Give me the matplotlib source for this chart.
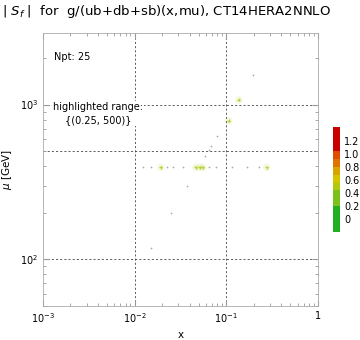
"""
|Sf| sensitivity map for g/(ub+db+sb), CT14HERA2NNLO.
"""
import matplotlib
matplotlib.use('Agg')
import matplotlib.pyplot as plt
from matplotlib.colors import ListedColormap, BoundaryNorm
from matplotlib.colorbar import ColorbarBase
import numpy as np

# data points
x_pts = [0.196, 0.137, 0.106, 0.080, 0.069, 0.065, 0.0594, 0.0378, 0.0247, 0.015,
         0.0123, 0.0151, 0.0194, 0.0225, 0.0262, 0.0336, 0.0466, 0.0515, 0.0556,
         0.0646, 0.0771, 0.115, 0.168, 0.227, 0.277]
mu_pts = [1557, 1072, 787, 630, 543, 509, 462, 297, 200, 119,
          393, 393, 393, 393, 393, 393, 393, 393, 393,
          393, 393, 393, 393, 393, 393]
sf_pts = [0.12, 0.48, 0.47, 0.12, 0.1, 0.1, 0.1, 0.12, 0.1, 0.1,
          0.1, 0.1, 0.46, 0.1, 0.1, 0.1, 0.45, 0.47, 0.46,
          0.1, 0.1, 0.1, 0.1, 0.1, 0.48]

# colour bar bands
bounds = [-0.2, 0.2, 0.44, 0.56, 0.68, 0.8, 0.92, 1.04, 1.42]
band_colors = ['#22b022', '#7cc01a', '#b0c810', '#d4c400', '#d9a400',
               '#e07400', '#e04c00', '#c80000']
cbar_ticks = [0, 0.2, 0.4, 0.6, 0.8, 1.0, 1.2]

cmap = ListedColormap(band_colors)
norm = BoundaryNorm(bounds, cmap.N)

fig = plt.figure(figsize=(3.6, 3.4), dpi=100)
ax = fig.add_axes([0.119, 0.1, 0.764, 0.803])

x_arr = np.array(x_pts)
mu_arr = np.array(mu_pts)
sf_arr = np.array(sf_pts)
low = sf_arr < 0.3

ax.scatter(x_arr[low], mu_arr[low], s=3, marker='+', color='#aaaaaa', lw=0.5, zorder=3)
# pale halo for the highlighted points
ax.scatter(x_arr[~low], mu_arr[~low], s=30, c=sf_arr[~low], cmap=cmap, norm=norm,
           alpha=0.12, edgecolors='none', zorder=3)
ax.scatter(x_arr[~low], mu_arr[~low], s=5, marker='+', c=sf_arr[~low], cmap=cmap,
           norm=norm, lw=1.0, alpha=0.8, zorder=4)

ax.set_xscale('log')
ax.set_yscale('log')
ax.set_xlim(1e-3, 1)
ax.set_ylim(50, 2900)

for xv in [0.01, 0.1]:
    ax.axvline(xv, color='#444444', ls=(0, (2.5, 2.5)), lw=0.6, zorder=1)
for yv in [100, 500, 1000]:
    ax.axhline(yv, color='#444444', ls=(0, (2.5, 2.5)), lw=0.6, zorder=1)

ax.set_xticks([1e-3, 1e-2, 1e-1, 1])
ax.set_xticklabels(['$10^{-3}$', '$10^{-2}$', '$10^{-1}$', '1'])
ax.set_yticks([100, 1000])
ax.set_yticklabels(['$10^{2}$', '$10^{3}$'])
ax.tick_params(which='both', direction='in', top=True, right=True,
               labelsize=7, color='#999999')
ax.tick_params(which='major', length=4)
ax.tick_params(which='minor', length=2)
for sp in ax.spines.values():
    sp.set_color('#aaaaaa')
    sp.set_linewidth(0.6)

ax.set_xlabel('x', fontsize=7.5)
ax.set_ylabel(r'$\mu$ [GeV]', fontsize=7.5)

ax.text(0.04, 0.9, 'Npt: 25', transform=ax.transAxes, fontsize=7)
ax.text(0.2, 0.705, 'highlighted range:\n{(0.25, 500)}', transform=ax.transAxes,
        fontsize=7, ha='center', va='center', linespacing=1.5,
        bbox=dict(facecolor='white', edgecolor='none', pad=0.5))

fig.text(0.005, 0.965, r'| $S_f$ |  for  g/(ub+db+sb)(x,mu), CT14HERA2NNLO',
         fontsize=9.5, va='center')

cax = fig.add_axes([0.924, 0.318, 0.021, 0.309])
cb = ColorbarBase(cax, cmap=cmap, norm=norm, boundaries=bounds, ticks=cbar_ticks,
                  spacing='proportional')
cb.outline.set_visible(False)
cax.minorticks_off()
cax.tick_params(which='both', length=0, labelsize=7, pad=3)
cax.set_yticklabels(['0', '0.2', '0.4', '0.6', '0.8', '1.0', '1.2'])

fig.savefig('out.png', dpi=100)
